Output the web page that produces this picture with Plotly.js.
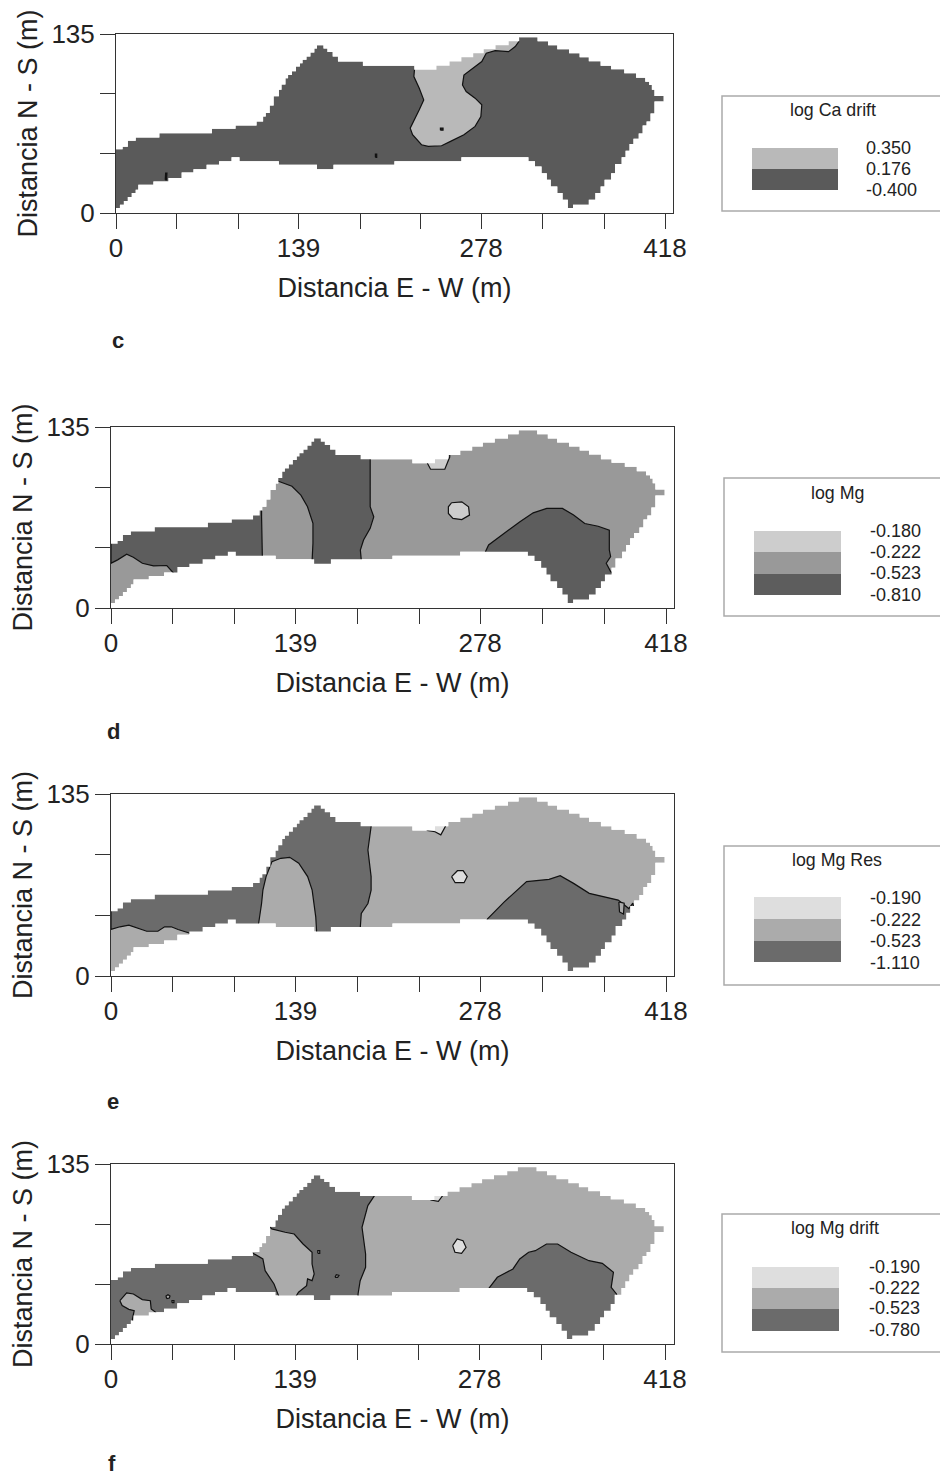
<!DOCTYPE html>
<html><head><meta charset="utf-8">
<script src="https://cdn.plot.ly/plotly-3.0.1.min.js"></script>
<style>html,body{margin:0;padding:0;background:#fff}#chart{width:940px;height:1477px}</style>
</head><body><div id="chart"></div>
<script>
// Shared outline of the mapped area: each x starts a grid step held at y until the next x
const topStepX = [0,5,9,15,33,73,91,107,112,114,117,120,124,126,129,131,134,137,140,142,145,148,151,153,158,161,165,169,188,227,244,254,263,272,280,289,299,307,321,329,336,345,353,360,369,377,387,396,403,406,408,410];
const topStepY = [48,50,54.5,57,60.2,63.5,66,69,72.8,75.5,81,88,92.9,97,101.7,104,107,110.4,113,115.5,118,121,124,126.5,124,121.5,118,114.2,111,108,111,114.2,117.5,120.5,123.5,126.5,129.5,132.5,129.5,126.5,123.5,120.5,117.5,114.5,111,108.4,105.4,102,99,96.6,93,88.3];
const botStepX = [0,3,6,9,12,15,17,28.5,40,50,59,69,78.5,88,94,124,153,165.6,212,263,311,314,319,324,328,331,336,340,344,348,357,360,365,369,372,377,380,385,388,391,394,398,401,404,407,410];
const botStepY = [3.8,6.3,9,12,15,17.6,21.3,23.8,26.4,30.6,33,36.4,39,42,39,36.4,33,36.4,39,42,42,39,35,30,25,20,15,10,3.8,6.3,6.3,10,15,20,25,30,37,42,47,52,56,60,66,69,75,84];
const outlineEndX = 417;

const xTickVals = [0,46.4,92.9,139,185.8,232.2,278,325.1,371.6,418];
const xTickText = ['0','','','139','','','278','','','418'];
const yTickVals = [0,45,90,135];
const yTickText = ['0','','','135'];

// Panel c
const cLightZone = [[227.5,111],[226.8,102.9],[230.9,94.1],[234.3,85.3],[230.9,77.8],[227.5,71.5],[224,64],[225.8,59],[232.6,51.5],[237.7,50.2],[242.8,50.7],[247.9,50.7],[254.7,54],[264.9,59],[273.4,65.3],[277.8,72.8],[278.5,81.6],[273.4,86.6],[266.6,91.6],[263.8,96.6],[264.9,104],[271.7,109.2],[278.5,114.2],[281.9,120.5],[288.7,122.5],[298.9,121.7],[304,125.5],[306.7,129.3],[306.7,136],[227.5,136]];
const cSpecks = [[[247,62.5],[249,62.5],[249,64],[247,64]],[[197.5,42],[198.5,42],[198.5,44.5],[197.5,44.5]],[[37.5,25],[38.5,25],[38.8,30],[37.8,30]]];
// Panel d
const dBandDark = [[0,70],[113.4,75],[113.4,68],[114,38],[113,20],[50,20],[47.1,26],[42,31.7],[32,31.4],[23.6,33.4],[16.8,37.9],[11.8,40.1],[5,35.9],[0,33.4]];
const dCentreDark = [[122,96],[127.2,94],[136.3,90.8],[143,84.2],[148,75.5],[152.1,63.1],[152.1,48.3],[151.5,35.9],[151.5,25],[188.5,25],[188.5,35.9],[187.8,43.3],[190.2,50.7],[195.2,59.4],[197.9,68],[195.2,75.5],[195.2,136],[122,136]];
const dLowerDark = [[282,42],[284.4,47],[296.2,55.7],[308,64.4],[318,71],[328.2,74.3],[340,74.3],[348.4,69.3],[356.8,63],[366.9,61],[375.3,58],[375.3,43.3],[376.3,38.4],[373,33.4],[376.3,27.2],[384,20],[360,-5],[320,-5],[282,30]];
const dSpot = [[256.5,78.5],[264.2,79.2],[269.3,75.5],[270,69.3],[264.2,66],[257.5,66.8],[254.1,70.5],[254.1,75.5]];
const dNotch = [[238.3,108],[240.7,103.5],[251.4,103.5],[255.1,112.6],[255.1,125],[238.3,125]];
// Panel e
const eLeftCentreDark = [[0,34.5],[6.7,36.5],[13.5,37.7],[20.2,35.2],[26.9,33.2],[35.3,33.2],[40.4,36.5],[45.4,36.5],[50.5,34.5],[60,31.5],[62,25],[108,25],[111.1,38.4],[113.4,53.8],[114.4,63.7],[116.8,73.7],[121.2,84.8],[127.9,87.3],[134.6,88],[141.4,83.6],[148.1,73.7],[151.5,63.7],[153.2,51.3],[154.2,43.9],[154.8,34],[154.8,25],[187.8,25],[187.8,36.5],[188.5,46.4],[193.5,53.8],[195.9,63.7],[195.9,73.7],[193.5,93.5],[195.9,110.9],[195.9,136],[0,136]];
const eLowerDark = [[283.4,42.2],[296.2,55],[313,70],[329.9,71.7],[338.3,74.4],[348.4,68.7],[360.2,61.3],[377,57.5],[382,56.3],[390,50],[393,54],[395,45],[385,35],[370,10],[350,-5],[300,-5],[283,30]];
const eLowerNotch = [[382.5,55],[383,47.5],[386,46],[386.5,54]];
const eSpot = [[256.5,73.7],[260.9,78.1],[265.2,78.1],[268.3,73.7],[265.9,69.2],[259.2,69.2]];
const eNotch = [[238,108],[244,107],[248.4,104.7],[251.8,110.9],[252,125],[238,125]];
// Panel f
const fRightMid = [[198.8,111.3],[193.8,103.8],[189.4,87.5],[192.1,67.5],[192.1,57.5],[188,47.5],[186.4,37.5],[186.4,30],[430,30],[430,136],[198.8,136]];
const fPocketMid = [[6.7,32.5],[11.8,38.3],[16.9,37.5],[23.6,33.3],[29.7,32.5],[30.3,26.3],[33.7,23.8],[34,15],[16,15],[16.2,18.8],[17.5,25],[13.5,26],[8.4,28.8]];
const fCentreMid = [[106.8,68.3],[114.6,63.8],[116.3,55],[123,45],[126.4,36.3],[126.4,25],[139.9,25],[139.9,36.3],[141.5,38.8],[147.6,43.8],[148.3,48.8],[151.7,47.5],[153.3,52.5],[151.7,60],[151.7,68.8],[144.9,75],[138.2,82.5],[131.4,83.8],[121.3,86.3],[118,90],[104,72]];
const fLowerDark = [[284.8,41.3],[291.5,50],[303.3,56.3],[308.4,63.8],[315.1,68.8],[320.2,70],[328.6,75],[337,75],[347.1,68.8],[360.6,62.5],[370.7,60.5],[379.1,53.8],[377.4,42.5],[381.4,37.5],[383,30],[360,-5],[320,-5],[282,30]];
const fSpot = [[257.8,73.8],[261.2,78.8],[265.6,77.5],[267.9,72.5],[264.5,68],[259.5,68.8]];
const fNotch = [[241,108],[247,107],[250,111],[250,125],[241,125]];
const fSpecks = [[[42,34],[44,34.5],[44.5,36],[43,37],[41.5,36]],[[169,50],[171,50],[172,51.5],[170,52]],[[156,68],[157.5,68],[157.5,70],[156,70]],[[46,31],[47.5,31],[47.5,32.5],[46,32.5]]];

// Legend texts and colours
const cLegendLabels = ['0.350','0.176','-0.400'];
const dLegendLabels = ['-0.180','-0.222','-0.523','-0.810'];
const eLegendLabels = ['-0.190','-0.222','-0.523','-1.110'];
const fLegendLabels = ['-0.190','-0.222','-0.523','-0.780'];
const cColors = ['#b9b9b9','#5a5a5a'];
const dColors = ['#cdcdcd','#999999','#5d5d5d'];
const eColors = ['#dedede','#ababab','#6b6b6b'];

const W = 940, H = 1477;
const px = x => x / W, py = y => 1 - y / H;

const panels = [
  {id:'', l:116, r:673, t:34, b:213, x418:665, base:cColors[1], letter:'c', lx:118, ly:340,
   zones:[[cLightZone,cColors[0]]], specks:cSpecks, speckColor:'#222',
   legend:{title:'log Ca drift', tx:833, ty:110, box:[722,96,211], sw:[752,838,[148,169,190]], lx:866, ly:[148,169,190], labels:cLegendLabels, colors:cColors}},
  {id:'2', l:111, r:674, t:427, b:608, x418:666, base:dColors[1], letter:'d', lx:113, ly:731,
   zones:[[dBandDark,dColors[2]],[dCentreDark,dColors[2]],[dLowerDark,dColors[2]],[dSpot,dColors[0]],[dNotch,dColors[0]]], specks:[], speckColor:'#222',
   legend:{title:'log Mg', tx:837, ty:493, box:[724,478,616], sw:[754,841,[531,552,574,595]], lx:870, ly:[531,552,573,595], labels:dLegendLabels, colors:dColors}},
  {id:'3', l:111, r:674, t:794, b:976, x418:666, base:eColors[1], letter:'e', lx:113, ly:1101,
   zones:[[eLeftCentreDark,eColors[2]],[eLowerDark,eColors[2]],[eLowerNotch,eColors[1]],[eSpot,eColors[0]],[eNotch,eColors[0]]], specks:[], speckColor:'#222',
   legend:{title:'log Mg Res', tx:837, ty:860, box:[724,846,985], sw:[754,841,[897,919,941,962]], lx:870, ly:[898,920,941,963], labels:eLegendLabels, colors:eColors}},
  {id:'4', l:111, r:674, t:1164, b:1344, x418:665, base:eColors[2], letter:'f', lx:112, ly:1463, 
   zones:[[fRightMid,eColors[1]],[fPocketMid,eColors[1]],[fCentreMid,eColors[1]],[fLowerDark,eColors[2]],[fSpot,eColors[0]],[fNotch,eColors[0]]], specks:fSpecks, speckColor:eColors[1],
   legend:{title:'log Mg drift', tx:835, ty:1228, box:[722,1214,1352], sw:[752,839,[1267,1288,1309,1331]], lx:869, ly:[1267,1288,1308,1330], labels:fLegendLabels, colors:eColors}}
];

function stairs(xs, ys, endX){
  const p = [];
  xs.forEach((x,i)=>{ p.push([x,ys[i]]); p.push([i+1<xs.length?xs[i+1]:endX, ys[i]]); });
  return p;
}
const topEdge = stairs(topStepX, topStepY, outlineEndX);
const botEdge = stairs(botStepX, botStepY, outlineEndX);
const areaOutline = topEdge.concat(botEdge.slice().reverse());
const tipLow = botStepY[botStepY.length-1];
const outsideAbove = [[0,140]].concat(topEdge,[[outlineEndX,tipLow],[440,tipLow],[440,140]]);
const outsideBelow = [[0,-6]].concat(botEdge,[[440,tipLow],[440,-6]]);

const fontFam = '"Liberation Sans", Arial, sans-serif';
const traces = [], shapes = [], annotations = [];
const layout = {width:W, height:H, margin:{l:0,r:0,t:0,b:0}, paper_bgcolor:'#fff', plot_bgcolor:'#fff', showlegend:false, font:{family:fontFam, color:'#222'}};

function poly(p, pts, fill, lineColor){
  traces.push({type:'scatter', mode:'lines', x:pts.map(q=>q[0]).concat(pts[0][0]), y:pts.map(q=>q[1]).concat(pts[0][1]),
    xaxis:'x'+p.id, yaxis:'y'+p.id, fill:'toself', fillcolor:fill, hoverinfo:'skip',
    line: lineColor ? {color:lineColor, width:1.2} : {width:0, color:fill}});
}

panels.forEach(p=>{
  poly(p, areaOutline, p.base, null);
  p.zones.forEach(z=>poly(p, z[0], z[1], '#111'));
  p.specks.forEach(s=>poly(p, s, p.speckColor, '#111'));
  poly(p, outsideAbove, '#ffffff', null);
  poly(p, outsideBelow, '#ffffff', null);

  layout['xaxis'+p.id] = {domain:[px(p.l),px(p.r)], range:[0,418*(p.r-p.l)/(p.x418-p.l)], anchor:'y'+p.id,
    tickmode:'array', tickvals:xTickVals, ticktext:xTickText, ticks:'outside', ticklen:15, tickcolor:'#333', tickwidth:1, ticklabelstandoff:-3,
    tickfont:{size:26, family:fontFam, color:'#222'}, showgrid:false, zeroline:false, showline:true, linecolor:'#333', linewidth:1, mirror:true,
    title:{text:'Distancia E - W (m)', standoff:15, font:{size:27, family:fontFam, color:'#222'}}};
  layout['yaxis'+p.id] = {domain:[py(p.b),py(p.t)], range:[0,135], anchor:'x'+p.id,
    tickmode:'array', tickvals:yTickVals, ticktext:yTickText, ticks:'outside', ticklen:15, tickcolor:'#333', tickwidth:1,
    tickfont:{size:26, family:fontFam, color:'#222'}, showgrid:false, zeroline:false, showline:true, linecolor:'#333', linewidth:1, mirror:true,
    title:{text:'Distancia N - S (m)', standoff:5, font:{size:27, family:fontFam, color:'#222'}}};

  annotations.push({xref:'paper',yref:'paper',x:px(p.lx),y:py(p.ly),text:'<b>'+p.letter+'</b>',showarrow:false,xanchor:'center',yanchor:'middle',font:{size:22,family:fontFam,color:'#222'}});

  const L = p.legend;
  shapes.push({type:'rect',xref:'paper',yref:'paper',x0:px(L.box[0]),x1:px(950),y0:py(L.box[2]),y1:py(L.box[1]),line:{color:'#ababab',width:1.5},fillcolor:'#fff'});
  L.colors.forEach((c,i)=>{
    shapes.push({type:'rect',xref:'paper',yref:'paper',x0:px(L.sw[0]),x1:px(L.sw[1]),y0:py(L.sw[2][i+1]),y1:py(L.sw[2][i]),line:{width:0},fillcolor:c});
  });
  annotations.push({xref:'paper',yref:'paper',x:px(L.tx),y:py(L.ty),text:L.title,showarrow:false,xanchor:'center',yanchor:'middle',font:{size:17.8,family:fontFam,color:'#222'}});
  L.labels.forEach((t,i)=>annotations.push({xref:'paper',yref:'paper',x:px(L.lx),y:py(L.ly[i]),text:t,showarrow:false,xanchor:'left',yanchor:'middle',xshift:-2,font:{size:18,family:fontFam,color:'#222'}}));
});
layout.shapes = shapes;
layout.annotations = annotations;
Plotly.newPlot('chart', traces, layout, {staticPlot:true, displayModeBar:false});
</script></body></html>
